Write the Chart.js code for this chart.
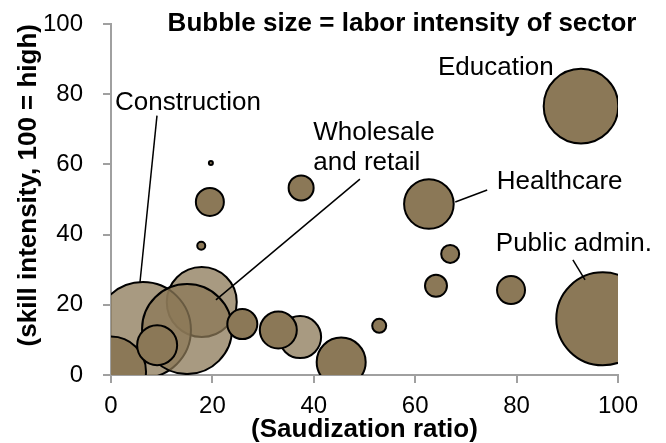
<!DOCTYPE html>
<html lang="en">
<head>
  <meta charset="UTF-8">
  <title>Saudization vs skill intensity</title>
  <style>
    html, body { margin: 0; padding: 0; background: #fff; }
    #chart { display: block; }
  </style>
</head>
<body>
  <canvas id="chart" width="666" height="443"></canvas>

  <script src="https://cdn.jsdelivr.net/npm/chart.js"></script>
  <script>
    // sectors drawn solid
    const solidX    = [0,   9.1, 17.8, 19.7, 19.5, 25.9, 33.0, 37.5, 45.4, 52.9, 62.7, 64.1, 66.9, 78.9, 92.7, 97.0];
    const solidY    = [1,   8.5, 36.8, 60.4, 49.3, 14.5, 12.8, 53.3,  3.7, 14.0, 48.7, 25.4, 34.5, 24.2, 76.6, 16.0];
    const solidSize = [35,  20,   4,    2,   14,   15,   18.5, 12.5, 24.5,  7,   24.8, 11,   9,   14,   37.3, 46.5];

    // the big sectors drawn see-through
    const paleX    = [17.9, 6.3, 37.3, 15.0];
    const paleY    = [20.8, 12.8, 10.8, 13.1];
    const paleSize = [35,   48,   21,   45];

    const axisTicks = [0, 20, 40, 60, 80, 100];

    // sector labels, placed in axis units
    const labelText = ['Education', 'Construction', 'Wholesale', 'and retail', 'Healthcare', 'Public admin.'];
    const labelX    = [64.5, 0.8, 39.9, 39.9, 76.1, 75.9];
    const labelY    = [87.5, 77.6, 69.1, 60.5, 55.0, 37.3];

    // leader lines: [x1, y1, x2, y2] in axis units
    const leaders = [
      [9.07, 73.9, 5.72, 26.5],
      [49.1, 55.8, 20.7, 21.4],
      [74.2, 52.7, 67.9, 49.3],
      [91.1, 32.8, 93.5, 27.1]
    ];

    const chartTitle = 'Bubble size = labor intensity of sector';

    const FONT = '"Liberation Sans", Arial, sans-serif';
    const brown = 'rgb(139,120,87)';
    const paleBrown = 'rgba(139,120,87,0.75)';
    const axisGrey = '#a0a0a0';

    function toPoints(xs, ys, rs) {
      return xs.map((x, i) => ({ x: x, y: ys[i], r: rs[i] }));
    }

    const notes = {
      id: 'notes',
      afterDatasetsDraw(chart) {
        const { ctx, scales: { x, y } } = chart;
        ctx.save();
        ctx.strokeStyle = '#000';
        ctx.lineWidth = 1.5;
        leaders.forEach(l => {
          ctx.beginPath();
          ctx.moveTo(x.getPixelForValue(l[0]), y.getPixelForValue(l[1]));
          ctx.lineTo(x.getPixelForValue(l[2]), y.getPixelForValue(l[3]));
          ctx.stroke();
        });
        ctx.fillStyle = '#000';
        ctx.textBaseline = 'middle';
        ctx.textAlign = 'left';
        ctx.font = '26px ' + FONT;
        labelText.forEach((t, i) => {
          ctx.fillText(t, x.getPixelForValue(labelX[i]), y.getPixelForValue(labelY[i]));
        });
        ctx.font = 'bold 26px ' + FONT;
        ctx.textAlign = 'center';
        ctx.fillText(chartTitle, x.getPixelForValue(57.4), y.getPixelForValue(100));
        ctx.restore();
      }
    };

    const axisCommon = {
      type: 'linear',
      min: 0,
      max: 100,
      grid: {
        drawOnChartArea: false,
        drawTicks: true,
        tickLength: 8,
        color: axisGrey,
        lineWidth: 2
      },
      border: { display: true, color: axisGrey, width: 2 },
      afterBuildTicks(scale) {
        scale.ticks = axisTicks.map(v => ({ value: v }));
      }
    };

    new Chart(document.getElementById('chart'), {
      type: 'bubble',
      data: {
        datasets: [
          {
            label: 'solid',
            data: toPoints(solidX, solidY, solidSize),
            backgroundColor: brown,
            borderColor: '#000',
            borderWidth: 2,
            clip: 0
          },
          {
            label: 'pale',
            data: toPoints(paleX, paleY, paleSize),
            backgroundColor: paleBrown,
            borderColor: '#000',
            borderWidth: 2,
            clip: 0
          }
        ]
      },
      options: {
        responsive: false,
        animation: false,
        layout: { autoPadding: false, padding: { top: 24, right: 48, left: 0, bottom: 0 } },
        plugins: {
          legend: { display: false },
          tooltip: { enabled: false }
        },
        scales: {
          x: Object.assign({}, axisCommon, {
            position: 'bottom',
            ticks: { color: '#000', font: { family: FONT, size: 24 }, padding: 9, maxRotation: 0 },
            title: {
              display: true,
              text: '(Saudization ratio)',
              color: '#000',
              font: { family: FONT, size: 26, weight: 'bold', lineHeight: 1 },
              padding: { top: 0, bottom: 0 }
            },
            afterFit(scale) { scale.height = 68; }
          }),
          y: Object.assign({}, axisCommon, {
            position: 'left',
            ticks: { color: '#000', font: { family: FONT, size: 24 }, padding: 20 },
            title: {
              display: true,
              text: '(skill intensity, 100 = high)',
              align: 'end',
              color: '#000',
              font: { family: FONT, size: 26, weight: 'bold', lineHeight: 1 },
              padding: { top: 16, bottom: 0 }
            },
            afterFit(scale) {
              scale.width = 111;
              scale.paddingTop = 0;
              scale.paddingBottom = 0;
            }
          })
        }
      },
      plugins: [notes]
    });
  </script>
</body>
</html>
